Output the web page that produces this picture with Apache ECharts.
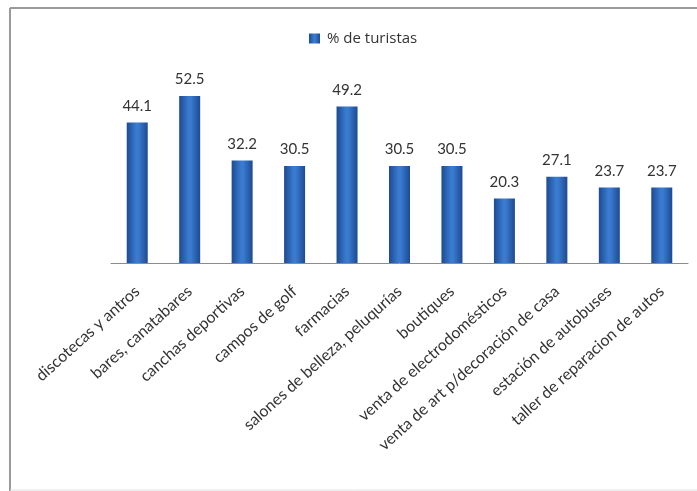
<!DOCTYPE html>
<html>
<head>
<meta charset="utf-8">
<script src="https://cdn.jsdelivr.net/npm/echarts@6/dist/echarts.min.js"></script>
<style>
html,body{margin:0;padding:0;background:#fff;}
#c{width:697px;height:491px;}
</style>
</head>
<body>
<div id="c"></div>
<script>
const categories = ["discotecas y antros","bares, canatabares","canchas deportivas","campos de golf","farmacias","salones de belleza, peluqurías","boutiques","venta de electrodomésticos","venta de art p/decoración de casa","estación de autobuses","taller de reparacion de autos"];
const seriesName = "% de turistas";
const values = [44.1,52.5,32.2,30.5,49.2,30.5,30.5,20.3,27.1,23.7,23.7];

const chart = echarts.init(document.getElementById('c'));
const barGrad = new echarts.graphic.LinearGradient(0,0,1,0,[
  {offset:0,color:'#1d4a92'},
  {offset:0.45,color:'#3a7bd0'},
  {offset:0.55,color:'#3a7bd0'},
  {offset:1,color:'#1d4a92'}
]);
chart.setOption({
  animation:false,
  textStyle:{fontFamily:'Lato'},
  graphic:[
    {type:'line',shape:{x1:10,y1:8,x2:697,y2:8},style:{stroke:'#9a9a9a',lineWidth:2}},
    {type:'line',shape:{x1:10,y1:8,x2:10,y2:491},style:{stroke:'#9a9a9a',lineWidth:2}},
    {type:'line',shape:{x1:10,y1:490,x2:697,y2:490},style:{stroke:'#e0e0e0',lineWidth:1}}
  ],
  legend:{
    data:[seriesName],
    left:304,top:26,
    itemWidth:11,itemHeight:10,itemGap:4,
    icon:'rect',
    textStyle:{fontSize:15,color:'#333',fontFamily:'Open Sans',padding:[0,0,0,2]}
  },
  grid:{left:111,right:9,top:72,bottom:228},
  xAxis:{
    type:'category',
    data:categories,
    axisLine:{lineStyle:{color:'#8c8c8c',width:1}},
    axisTick:{show:false},
    axisLabel:{rotate:42,interval:0,fontSize:16,color:'#333',margin:26,fontFamily:'Lato'}
  },
  yAxis:{
    type:'value',min:0,max:60,
    show:false,
    splitLine:{show:false}
  },
  series:[{
    name:seriesName,
    type:'bar',
    data:values,
    barWidth:21,
    itemStyle:{color:barGrad},
    label:{show:true,position:'top',distance:9,fontSize:15,color:'#333',fontFamily:'Lato',formatter:p=>p.value.toFixed(1)}
  }]
});
</script>
</body>
</html>
